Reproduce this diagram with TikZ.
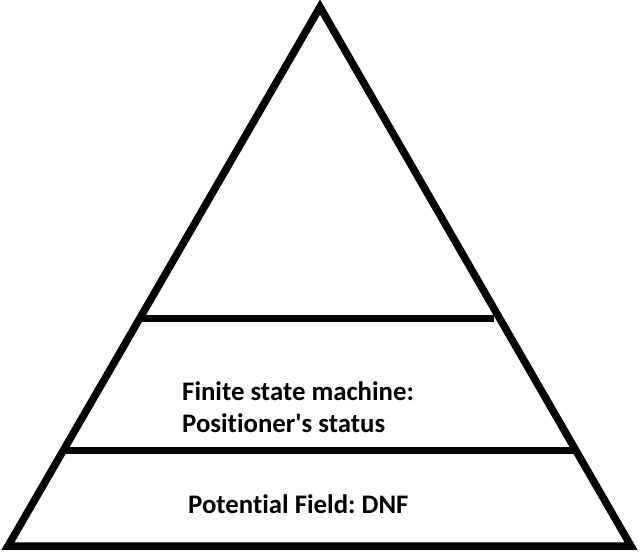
\documentclass[tikz,border=0pt]{standalone}
\usepackage{fontspec}
\newfontfamily\lblfont{Carlito}[RawFeature={-liga;-clig}]
\begin{document}
\begin{tikzpicture}[x=1pt,y=-1pt,
  edge/.style={line width=7.5pt,line join=miter},
  bar/.style={line width=7pt,line cap=butt},
  lbl/.style={anchor=base west,inner sep=0pt,font=\lblfont\fontsize{26.8}{32}\selectfont\bfseries\frenchspacing}]
\useasboundingbox (0,0) rectangle (642,553);
\coordinate (apex) at (320,7);
\coordinate (bl) at (8,546);
\coordinate (br) at (631,546);
\draw[edge] (apex) -- (bl) -- (br) -- cycle;
\coordinate (l1a) at (138,318);
\coordinate (l1b) at (494,318);
\coordinate (l2a) at (66,450);
\coordinate (l2b) at (574,450);
\draw[bar] (l1a) -- (l1b);
\draw[bar] (l2a) -- (l2b);
\node[lbl] (fsm1) at (182,400) {Finite state machine:};
\node[lbl] (fsm2) at (182,432) {Positioner's status};
\node[lbl] (pf) at (188,513) {Potential Field: DNF};
\end{tikzpicture}
\end{document}
